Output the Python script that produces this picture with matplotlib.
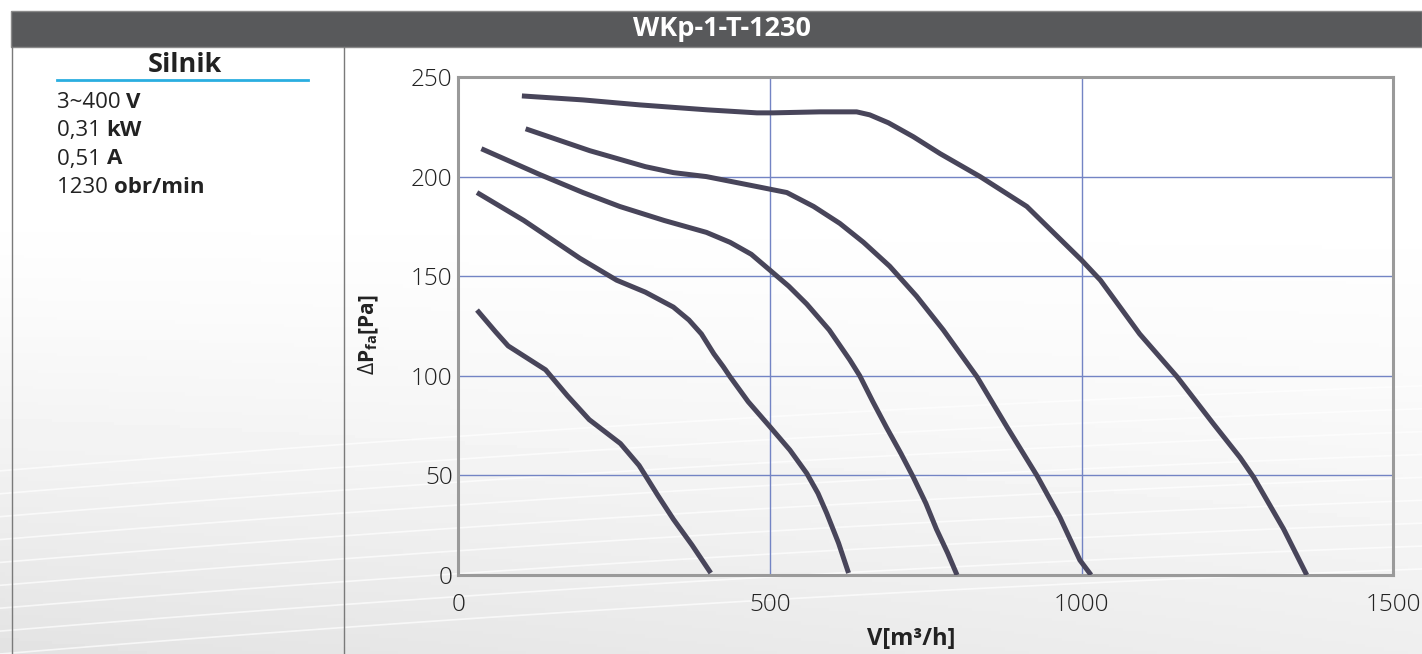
import matplotlib
matplotlib.use("Agg")
import matplotlib.pyplot as plt
import numpy as np
from matplotlib.lines import Line2D
from matplotlib.patches import Rectangle

plt.rcParams['font.family'] = ['Open Sans', 'DejaVu Sans']
plt.rcParams['mathtext.fontset'] = 'custom'
plt.rcParams['mathtext.rm'] = 'Open Sans'
plt.rcParams['mathtext.bf'] = 'Open Sans:bold'

title = "WKp-1-T-1230"
motor_head = "Silnik"
motor_vals = ["3~400", "0,31", "0,51", "1230"]
motor_units = ["V", "kW", "A", "obr/min"]

x_ticks = [0, 500, 1000, 1500]
y_ticks = [0, 50, 100, 150, 200, 250]

# fan curves, V [m3/h] vs dP [Pa]
c1_x = [102, 200, 291, 400, 479, 505, 580, 639, 660, 690, 730, 773, 837, 912, 1000, 1030, 1093, 1153, 1211, 1254, 1276, 1324, 1361]
c1_y = [240.5, 238.5, 236, 233.5, 232, 232, 232.5, 232.5, 231, 227, 220, 211.5, 200, 185, 158, 148, 121, 99.5, 76, 59, 49, 23, 0]
c2_x = [108, 211, 300, 345, 398, 479, 527, 570, 612, 650, 692, 735, 778, 832, 880, 928, 965, 997, 1015]
c2_y = [224, 213, 205, 202, 200, 195, 192, 185, 176.5, 167, 155, 140, 123, 99.5, 74.4, 50, 29, 7.5, 0]
c3_x = [37, 131, 200, 259, 330, 398, 436, 470, 500, 530, 559, 595, 628, 644, 665, 687, 710, 730, 750, 767, 785, 800]
c3_y = [214, 201, 192, 185, 178, 172, 167, 161, 153, 145, 136, 123, 108, 100, 87, 74, 61, 49, 36, 23, 11, 0]
c4_x = [30, 105, 195, 254, 300, 345, 370, 390, 410, 425, 436, 465, 500, 532, 559, 577, 591, 610, 626]
c4_y = [192, 178, 159, 148, 142, 134.5, 128, 121, 111, 104.6, 99.5, 87, 74.4, 62.7, 51, 41, 31, 16, 1]
c5_x = [30, 60, 80, 100, 140, 175, 210, 260, 290, 320, 345, 375, 405]
c5_y = [133, 122, 115, 111, 103, 90, 78, 66, 55, 40, 28, 15, 1]
curves = [(c1_x, c1_y), (c2_x, c2_y), (c3_x, c3_y), (c4_x, c4_y), (c5_x, c5_y)]

W, H = 1422, 654
fig = plt.figure(figsize=(W / 100, H / 100), dpi=100)

# soft grey background
bg = fig.add_axes([0, 0, 1, 1], zorder=-5)
yy, xx = np.mgrid[0:1:200j, 0:1:300j]
shade = 1 - 0.11 * np.clip((yy - 0.3) / 0.7, 0, 1) ** 1.3 * (1 - 0.4 * xx)
bg.imshow(shade, cmap="gray", vmin=0, vmax=1, extent=[0, 1, 1, 0], aspect="auto")
t = np.linspace(0, 1, 100)
for k in range(9):
    bg.plot(t, 0.72 + 0.035 * k - 0.18 * t + 0.05 * t ** 2, color="white", lw=1.2, alpha=0.7)
bg.set_xlim(0, 1)
bg.set_ylim(1, 0)
bg.axis("off")

# header bar and left panel frame
fig.patches.append(Rectangle((11 / W, 1 - 47 / H), 1 - 11 / W, 36 / H, transform=fig.transFigure,
                             facecolor="#58595b", edgecolor="#8a8a8a", lw=1))
fig.text(722 / W, 1 - 29 / H, title, color="white", fontsize=19.5, fontweight="bold", ha="center", va="center")
fig.lines.append(Line2D([12 / W, 12 / W], [0, 1 - 47 / H], transform=fig.transFigure, color="#7a7a7a", lw=1))
fig.lines.append(Line2D([344 / W, 344 / W], [0, 1 - 47 / H], transform=fig.transFigure, color="#7a7a7a", lw=1))

fig.text(185 / W, 1 - 65 / H, motor_head, fontsize=19.5, fontweight="bold", color="#222222", ha="center", va="center")
fig.lines.append(Line2D([57 / W, 308 / W], [1 - 80 / H, 1 - 80 / H], transform=fig.transFigure, color="#2aaee0", lw=2))
for i, (v, u) in enumerate(zip(motor_vals, motor_units)):
    yp = 1 - (102 + 28.5 * i) / H
    tv = fig.text(57 / W, yp, v + " ", fontsize=16, color="#222222", ha="left", va="center")
    fig.canvas.draw()
    bb = tv.get_window_extent()
    fig.text(bb.x1 / W, yp, u, fontsize=16, fontweight="bold", color="#222222", ha="left", va="center")

ax = fig.add_axes([458.3 / W, 1 - 575 / H, (1393.4 - 458.3) / W, (575 - 77) / H])
ax.set_facecolor("none")
for xs, ys in curves:
    ax.plot(xs, ys, color="#48455a", lw=3.6, solid_joinstyle="round", solid_capstyle="butt", zorder=3)

ax.set_xlim(0, 1500)
ax.set_ylim(0, 250)
ax.set_xticks(x_ticks)
ax.set_yticks(y_ticks)
ax.tick_params(length=0, labelsize=17.5, colors="#222222")
ax.tick_params(axis="x", pad=13)
ax.tick_params(axis="y", pad=4)
for lab in ax.get_xticklabels() + ax.get_yticklabels():
    lab.set_fontweight("light")
ax.grid(True, color="#7384c4", lw=1)
for s in ax.spines.values():
    s.set_color("#9a9a9a")
    s.set_linewidth(2.2)
ax.set_xlabel("V[m³/h]", fontsize=17, fontweight="bold", color="#222222")
ax.xaxis.set_label_coords(0.484, -0.104)
ax.set_ylabel(r"$\Delta\mathbf{P}_{\mathbf{fa}}\mathbf{[Pa]}$", fontsize=15, color="#222222")
ax.yaxis.set_label_coords(-0.0827, 0.482)

fig.savefig("out.png", dpi=100)
